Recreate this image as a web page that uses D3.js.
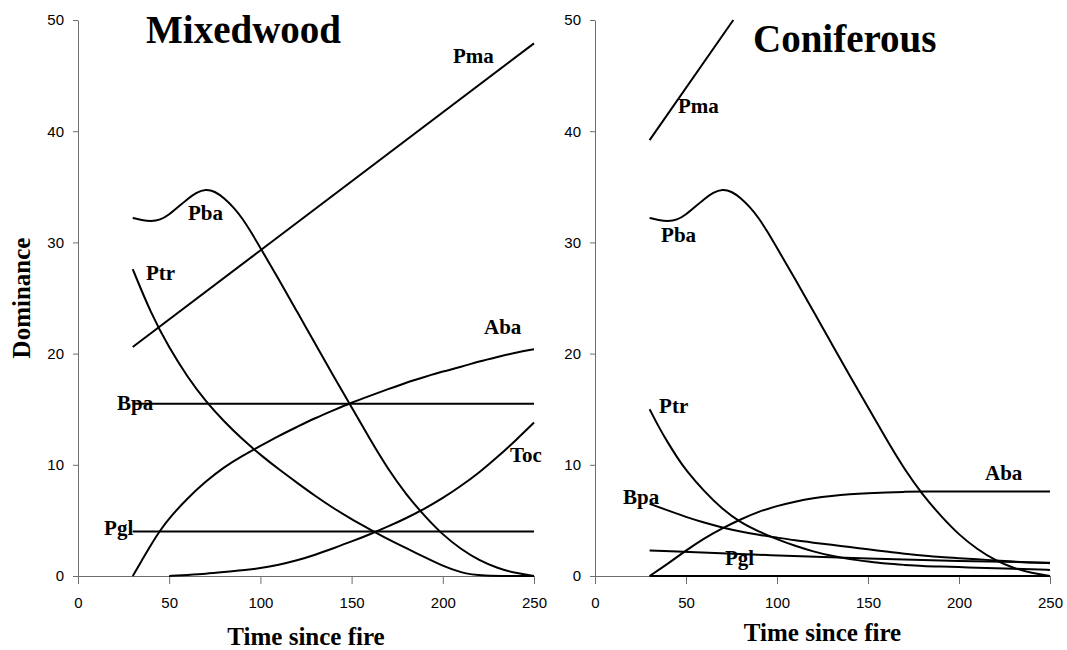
<!DOCTYPE html>
<html>
<head>
<meta charset="utf-8">
<script src="https://cdn.jsdelivr.net/npm/d3@7"></script>
<style>
  body { margin: 0; background: #fff; }
  .lbl { font-family: "Liberation Serif", "Times New Roman", serif; font-weight: bold; }
  .tick text { font-family: "Liberation Sans", Arial, sans-serif; font-size: 15px; fill: #000; }
</style>
</head>
<body>
<div id="chart"></div>
<script>
// x-axis ticks (years since fire) and y-axis ticks (dominance)
const xTicks = [0, 50, 100, 150, 200, 250];
const yTicks = [0, 10, 20, 30, 40, 50];

// Pba is the same curve in both stand types
const pbaTime = [30, 35, 40, 45, 50, 55, 60, 65, 70, 75, 80, 85, 90, 95, 100, 110, 120, 130, 140, 150, 160, 170, 180, 190, 200, 210, 220, 230, 240, 250];
const pbaDom  = [32.2, 32.0, 31.9, 32.0, 32.5, 33.2, 33.9, 34.5, 34.8, 34.6, 34.0, 33.2, 32.2, 30.9, 29.5, 26.7, 23.8, 20.9, 18.0, 15.2, 12.3, 9.6, 7.3, 5.4, 3.7, 2.4, 1.4, 0.7, 0.25, 0];

// Mixedwood
const mixPmaTime = [30, 250];
const mixPmaDom  = [20.6, 47.9];
const mixPtrTime = [30, 40, 50, 60, 70, 80, 90, 100, 110, 120, 130, 140, 150, 160, 170, 180, 190, 200, 210, 220, 250];
const mixPtrDom  = [27.6, 23.6, 20.5, 17.9, 15.7, 13.9, 12.3, 10.9, 9.6, 8.4, 7.2, 6.1, 5.1, 4.2, 3.3, 2.5, 1.7, 0.9, 0.3, 0, 0];
const mixAbaTime = [30, 35, 40, 45, 50, 60, 70, 80, 90, 100, 110, 120, 130, 140, 150, 160, 170, 180, 190, 200, 210, 220, 230, 240, 250];
const mixAbaDom  = [0, 1.4, 2.8, 4.1, 5.2, 7.0, 8.5, 9.8, 10.8, 11.7, 12.6, 13.4, 14.2, 14.9, 15.6, 16.2, 16.8, 17.4, 17.9, 18.4, 18.8, 19.3, 19.7, 20.1, 20.4];
const mixBpaTime = [30, 250];
const mixBpaDom  = [15.5, 15.5];
const mixPglTime = [30, 250];
const mixPglDom  = [4.0, 4.0];
const mixTocTime = [50, 60, 70, 80, 90, 100, 110, 120, 130, 140, 150, 160, 170, 180, 190, 200, 210, 220, 230, 240, 250];
const mixTocDom  = [0, 0.1, 0.2, 0.35, 0.5, 0.7, 1.0, 1.4, 1.9, 2.5, 3.1, 3.75, 4.45, 5.2, 6.05, 7.0, 8.1, 9.3, 10.7, 12.2, 13.8];

// Coniferous
const conPmaTime = [30, 76];
const conPmaDom  = [39.2, 50];
const conPtrTime = [30, 35, 40, 45, 50, 60, 70, 80, 90, 100, 110, 120, 130, 140, 150, 160, 170, 180, 190, 200, 210, 220, 230, 240, 250];
const conPtrDom  = [15.0, 13.4, 12.0, 10.7, 9.5, 7.6, 6.0, 4.8, 4.0, 3.3, 2.7, 2.2, 1.8, 1.5, 1.3, 1.1, 1.0, 0.9, 0.85, 0.8, 0.75, 0.7, 0.65, 0.6, 0.55];
const conAbaTime = [30, 40, 50, 60, 70, 80, 90, 100, 110, 120, 130, 140, 150, 160, 170, 180, 200, 225, 250];
const conAbaDom  = [0, 1.1, 2.3, 3.4, 4.3, 5.1, 5.8, 6.3, 6.7, 7.0, 7.2, 7.35, 7.45, 7.52, 7.57, 7.6, 7.6, 7.6, 7.6];
const conBpaTime = [30, 40, 50, 60, 70, 80, 90, 100, 110, 120, 130, 140, 150, 160, 170, 180, 190, 200, 210, 220, 230, 240, 250];
const conBpaDom  = [6.5, 5.9, 5.3, 4.8, 4.35, 4.0, 3.7, 3.45, 3.2, 3.0, 2.8, 2.6, 2.4, 2.2, 2.0, 1.85, 1.7, 1.6, 1.5, 1.4, 1.3, 1.2, 1.15];
const conPglTime = [30, 100, 150, 200, 250];
const conPglDom  = [2.3, 1.85, 1.55, 1.35, 1.2];
const conTocTime = [30, 250];
const conTocDom  = [0, 0];

function pairs(t, v) { return t.map((d, i) => [d, v[i]]); }

const panels = [
  {
    title: "Mixedwood", left: 78, right: 534, titleX: 146, titleY: 43, xTitleY: 645,
    series: [
      { name: "Pma", pts: pairs(mixPmaTime, mixPmaDom), lx: 205.6, ly: 46.1 },
      { name: "Pba", pts: pairs(pbaTime, pbaDom), lx: 60.3, ly: 32.0 },
      { name: "Ptr", pts: pairs(mixPtrTime, mixPtrDom), lx: 37.3, ly: 26.6 },
      { name: "Aba", pts: pairs(mixAbaTime, mixAbaDom), lx: 222.6, ly: 21.8 },
      { name: "Bpa", pts: pairs(mixBpaTime, mixBpaDom), lx: 21.4, ly: 14.9 },
      { name: "Pgl", pts: pairs(mixPglTime, mixPglDom), lx: 14.3, ly: 3.7 },
      { name: "Toc", pts: pairs(mixTocTime, mixTocDom), lx: 236.8, ly: 10.25 }
    ]
  },
  {
    title: "Coniferous", left: 595, right: 1050, titleX: 753, titleY: 52, xTitleY: 641,
    series: [
      { name: "Pma", pts: pairs(conPmaTime, conPmaDom), lx: 45.6, ly: 41.6 },
      { name: "Pba", pts: pairs(pbaTime, pbaDom), lx: 36.3, ly: 30.0 },
      { name: "Ptr", pts: pairs(conPtrTime, conPtrDom), lx: 35.2, ly: 14.7 },
      { name: "Aba", pts: pairs(conAbaTime, conAbaDom), lx: 214.3, ly: 8.6 },
      { name: "Bpa", pts: pairs(conBpaTime, conBpaDom), lx: 15.4, ly: 6.5 },
      { name: "Pgl", pts: pairs(conPglTime, conPglDom), lx: 71.4, ly: 1.0 },
      { name: "", pts: pairs(conTocTime, conTocDom) }
    ]
  }
];

const W = 1067, H = 650, plotTop = 20, plotBottom = 576;

const svg = d3.select("#chart").append("svg")
  .attr("width", W).attr("height", H);

const y = d3.scaleLinear().domain([0, 50]).range([plotBottom, plotTop]);

panels.forEach(p => {
  const x = d3.scaleLinear().domain([0, 250]).range([p.left, p.right]);
  const g = svg.append("g");

  // x axis
  g.append("g")
    .attr("transform", "translate(0," + plotBottom + ")")
    .call(d3.axisBottom(x).tickValues(xTicks).tickSize(8).tickSizeOuter(0).tickPadding(13));
  // y axis
  g.append("g")
    .attr("transform", "translate(" + p.left + ",0)")
    .call(d3.axisLeft(y).tickValues(yTicks).tickSize(5).tickSizeOuter(0).tickPadding(9));
  g.selectAll(".domain, .tick line").attr("stroke", "#6e6e6e");

  const line = d3.line()
    .x(d => x(d[0]))
    .y(d => y(d[1]))
    .curve(d3.curveBasis);

  g.selectAll(".curve")
    .data(p.series)
    .enter()
    .append("path")
    .attr("class", "curve")
    .attr("d", d => line(d.pts))
    .attr("fill", "none")
    .attr("stroke", "#000")
    .attr("stroke-width", 2);

  g.selectAll(".sp")
    .data(p.series.filter(d => d.name))
    .enter()
    .append("text")
    .attr("class", "lbl")
    .attr("x", d => x(d.lx))
    .attr("y", d => y(d.ly))
    .style("font-size", "21px")
    .text(d => d.name);

  g.append("text")
    .attr("class", "lbl")
    .attr("x", p.titleX).attr("y", p.titleY)
    .style("font-size", "39px")
    .text(p.title);

  g.append("text")
    .attr("class", "lbl")
    .attr("x", (p.left + p.right) / 2).attr("y", p.xTitleY)
    .attr("text-anchor", "middle")
    .style("font-size", "25px")
    .text("Time since fire");
});

svg.append("text")
  .attr("class", "lbl")
  .attr("transform", "translate(30,298) rotate(-90)")
  .attr("text-anchor", "middle")
  .style("font-size", "25px")
  .text("Dominance");
</script>
</body>
</html>
